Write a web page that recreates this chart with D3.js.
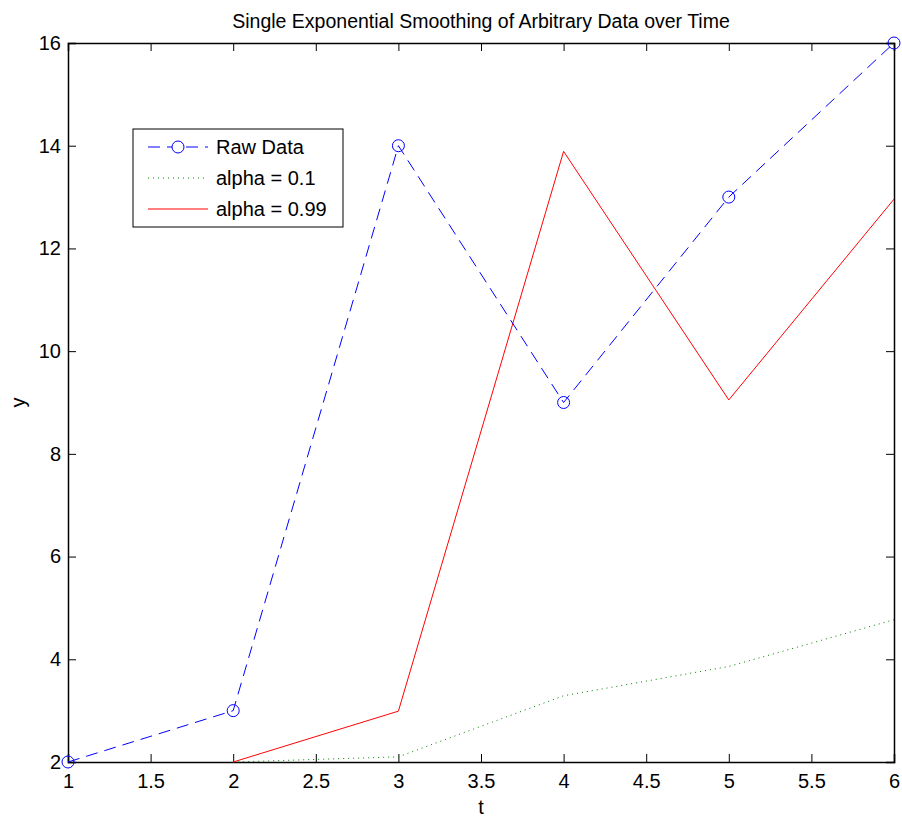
<!DOCTYPE html>
<html>
<head>
<meta charset="utf-8">
<script src="https://cdn.jsdelivr.net/npm/d3@7"></script>
<style>
  body { margin: 0; background: #fff; }
  text { font-family: "Liberation Sans", Arial, sans-serif; fill: #000; }
</style>
</head>
<body>
<script>
// valores
var tiempos = [1, 2, 3, 4, 5, 6]
var datosRaw = [2, 3, 14, 9, 13, 16]
var tiemposSuav = [2, 3, 4, 5, 6]
var alfa01 = [2, 2.1, 3.29, 3.86, 4.77]
var alfa099 = [2, 2.99, 13.89, 9.05, 12.96]
var ticksX = [1, 1.5, 2, 2.5, 3, 3.5, 4, 4.5, 5, 5.5, 6]
var ticksY = [2, 4, 6, 8, 10, 12, 14, 16]

var margen = {izq: 68, der: 894, arr: 43, aba: 762}

var svg = d3.select("body").append("svg")
    .attr("width", 902)
    .attr("height", 818)

var x = d3.scaleLinear().domain([1, 6]).range([margen.izq, margen.der])
var y = d3.scaleLinear().domain([2, 16]).range([margen.aba, margen.arr])

// ejes (ticks hacia dentro, tambien arriba y a la derecha)
svg.append("g")
    .attr("transform", "translate(0," + margen.aba + ")")
    .call(d3.axisBottom(x).tickValues(ticksX).tickSize(-8).tickPadding(12).tickFormat(d3.format("")))
svg.append("g")
    .attr("transform", "translate(0," + margen.arr + ")")
    .call(d3.axisTop(x).tickValues(ticksX).tickSize(-8).tickFormat(""))
svg.append("g")
    .attr("transform", "translate(" + margen.izq + ",0)")
    .call(d3.axisLeft(y).tickValues(ticksY).tickSize(-8).tickPadding(7))
svg.append("g")
    .attr("transform", "translate(" + margen.der + ",0)")
    .call(d3.axisRight(y).tickValues(ticksY).tickSize(-8).tickFormat(""))

svg.selectAll(".domain").attr("stroke", "#000").attr("stroke-width", 1.5)
svg.selectAll(".tick line").attr("stroke", "#000")
svg.selectAll(".tick text").style("font-size", "20px")

var linea = d3.line().x(d => x(d[0])).y(d => y(d[1]))

svg.append("path")
    .datum(d3.zip(tiemposSuav, alfa01))
    .attr("d", linea)
    .attr("fill", "none")
    .attr("stroke", "#008000")
    .attr("stroke-dasharray", "1,4")

svg.append("path")
    .datum(d3.zip(tiemposSuav, alfa099))
    .attr("d", linea)
    .attr("fill", "none")
    .attr("stroke", "#ff0000")

svg.append("path")
    .datum(d3.zip(tiempos, datosRaw))
    .attr("d", linea)
    .attr("fill", "none")
    .attr("stroke", "#0000ff")
    .attr("stroke-dasharray", "12,7")

svg.append("g")
    .selectAll("circle")
    .data(d3.zip(tiempos, datosRaw))
    .enter()
    .append("circle")
    .attr("cx", d => x(d[0]))
    .attr("cy", d => y(d[1]))
    .attr("r", 6)
    .attr("fill", "none")
    .attr("stroke", "#0000ff")

// titulo y etiquetas
svg.append("text")
    .attr("x", (margen.izq + margen.der) / 2)
    .attr("y", 28)
    .attr("text-anchor", "middle")
    .style("font-size", "19.5px")
    .text("Single Exponential Smoothing of Arbitrary Data over Time")

svg.append("text")
    .attr("x", x(3.5))
    .attr("y", 814)
    .attr("text-anchor", "middle")
    .style("font-size", "20px")
    .text("t")

svg.append("text")
    .attr("transform", "translate(25," + (margen.arr + margen.aba) / 2 + ") rotate(-90)")
    .attr("text-anchor", "middle")
    .style("font-size", "20px")
    .text("y")

// leyenda
var leyenda = svg.append("g").attr("transform", "translate(133,129)")
leyenda.append("rect")
    .attr("width", 210).attr("height", 98)
    .attr("fill", "#fff").attr("stroke", "#000")

var entradas = [
    {nombre: "Raw Data", color: "#0000ff", guion: "12,7", marca: true},
    {nombre: "alpha = 0.1", color: "#008000", guion: "1,4", marca: false},
    {nombre: "alpha = 0.99", color: "#ff0000", guion: null, marca: false}
]
entradas.forEach(function(e, i) {
    var yy = 18 + i * 31
    leyenda.append("line")
        .attr("x1", 15).attr("x2", 75).attr("y1", yy).attr("y2", yy)
        .attr("stroke", e.color)
        .attr("stroke-dasharray", e.guion)
    if (e.marca) {
        leyenda.append("circle")
            .attr("cx", 45).attr("cy", yy).attr("r", 6)
            .attr("fill", "#fff").attr("stroke", e.color)
    }
    leyenda.append("text")
        .attr("x", 83).attr("y", yy + 7)
        .style("font-size", "20px")
        .text(e.nombre)
})
</script>
</body>
</html>
